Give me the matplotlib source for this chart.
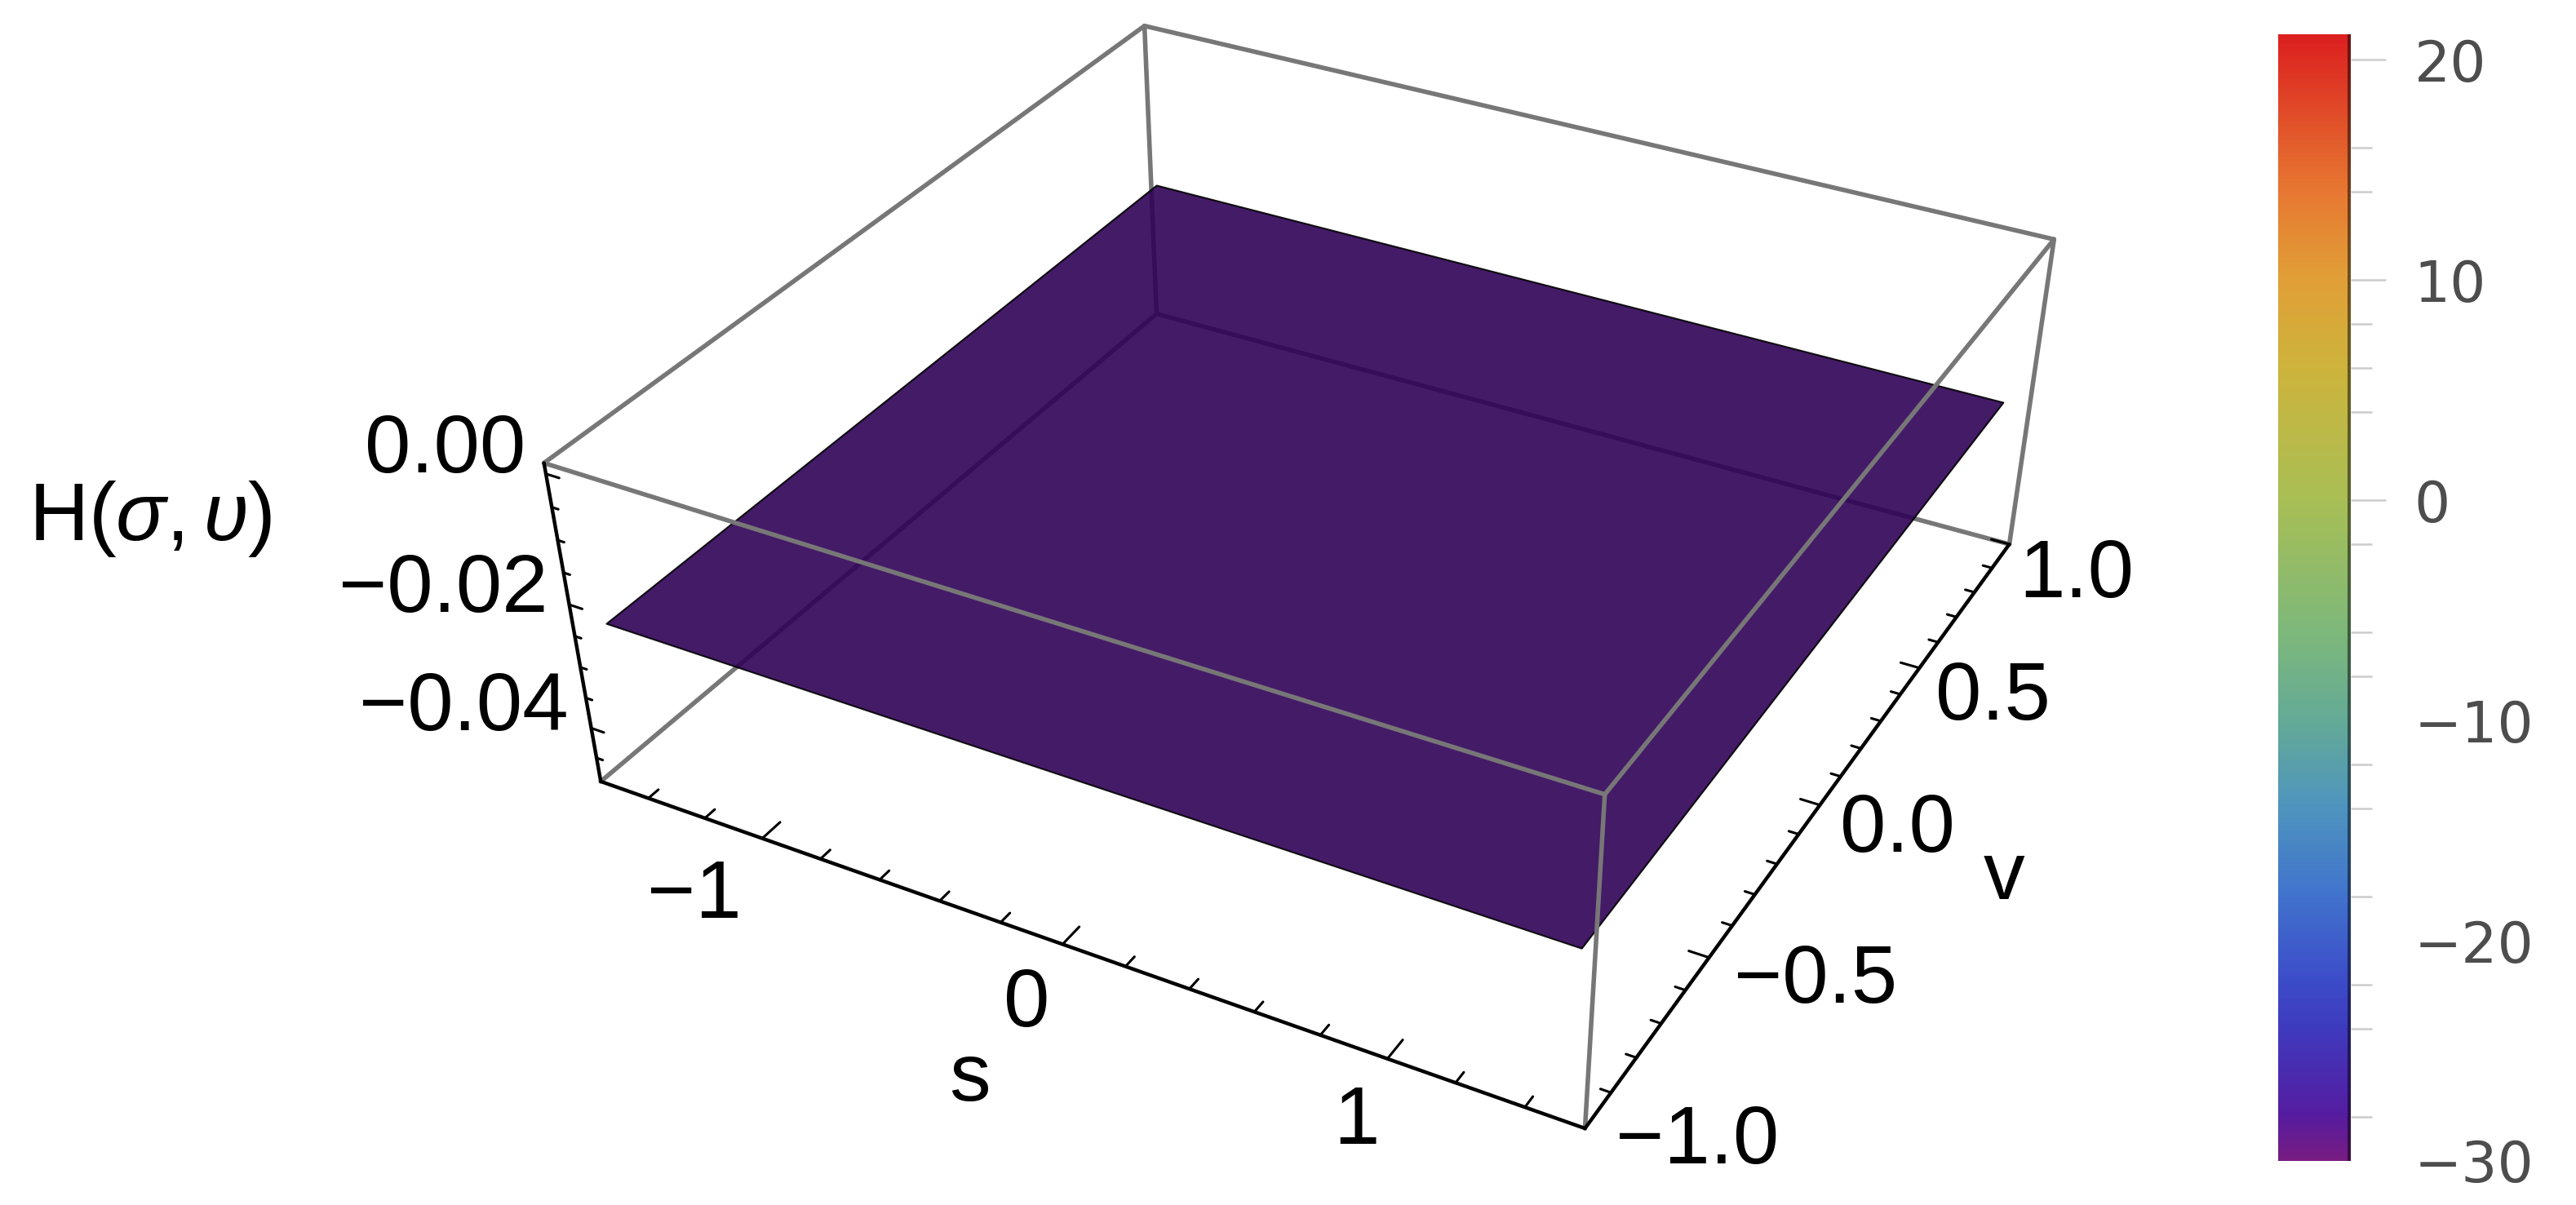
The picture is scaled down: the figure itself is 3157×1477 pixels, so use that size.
import numpy as np
import matplotlib
matplotlib.use("Agg")
import matplotlib.pyplot as plt
from matplotlib.colors import LinearSegmentedColormap, Normalize
from matplotlib.cm import ScalarMappable
from matplotlib.patches import Rectangle

W, H = 3157, 1477
plt.rcParams['font.family'] = ['Liberation Sans', 'DejaVu Sans']
plt.rcParams['mathtext.fontset'] = 'custom'
plt.rcParams['mathtext.rm'] = 'Liberation Sans'
plt.rcParams['mathtext.it'] = 'Liberation Sans:italic'

s_lim = [-1.5708, 1.5708]
v_lim = [-1.0, 1.0]
z_lim = [-0.049, 0.0016]
s_major = [-1, 0, 1]
s_minor = [-1.4, -1.2, -0.8, -0.6, -0.4, -0.2, 0.2, 0.4, 0.6, 0.8, 1.2, 1.4]
v_major = [-1.0, -0.5, 0.0, 0.5, 1.0]
v_minor = [-0.9, -0.8, -0.7, -0.6, -0.4, -0.3, -0.2, -0.1, 0.1, 0.2, 0.3, 0.4, 0.6, 0.7, 0.8, 0.9]
z_major = [0.0, -0.02, -0.04]
z_minor = [-0.005, -0.01, -0.015, -0.025, -0.03, -0.035, -0.045]
surf_s = np.array([[-1.511, 1.506], [-1.519, 1.504]])
surf_v = np.array([[-0.956, -0.960], [0.968, 0.961]])
surf_z = np.array([[-0.024, -0.024], [-0.024, -0.024]])
cb_major = [20, 10, 0, -10, -20, -30]
cb_minor = [16, 14, 8, 6, 4, -2, -6, -8, -12, -14, -18, -22, -24, -28]
cb_nodes = [-30, -28, -24, -22, -18, -14, -10, -6, 0, 6, 10, 14, 16, 21.15]
cb_colors = ['#781c82', '#551ca0', '#3e3abe', '#3c4bc8', '#4173cd', '#4e94be', '#64aa96',
             '#7db87a', '#a8be55', '#cdb43c', '#e0a037', '#e77832', '#e3602c', '#dc2020']

# perspective camera of the 3D box: data (s, v, z) to picture pixels
P = np.array([[318.520992, 500.814772, -2345.190591, 1637.408624],
              [85.975555, -250.749791, -8671.64724, 436.642431],
              [-0.037688, 0.108143, -1.41226, 1.0]])

fig = plt.figure(figsize=(W / 100, H / 100), dpi=100, facecolor='white')
ax = fig.add_axes([0, 0, 1, 1], projection='3d', computed_zorder=False)
ax.set_axis_off()
ax.apply_aspect = lambda position=None: None


def get_proj():
    vl = ax.viewLim
    A = np.array([[vl.width / W, 0, 0, vl.x0],
                  [0, -vl.height / H, 0, vl.y1],
                  [0, 0, 1, 0],
                  [0, 0, 0, 1]])
    # rows: x*w, y*w, depth (kept negative, in front of the camera), w
    return A @ np.vstack([P[0], P[1], [0, 0, 0, -1], P[2]])


ax.get_proj = get_proj

GRAY = '#777777'
LW_BOX, LW_AXIS, LW_TICK = 4.0, 3.2, 2.2


def edge(a, b, color=GRAY, lw=LW_BOX, zo=1):
    ax.plot([a[0], b[0]], [a[1], b[1]], [a[2], b[2]], color=color, lw=lw, zorder=zo,
            solid_capstyle='round', clip_on=False)


s0, s1 = s_lim
v0, v1 = v_lim
z0, z1 = z_lim
# back edges, under the translucent surface
edge((s0, v1, z1), (s0, v1, z0))
edge((s0, v1, z0), (s1, v1, z0))
edge((s0, v1, z0), (s0, v0, z0))
edge((s0, v0, z1), (s0, v1, z1))
edge((s0, v1, z1), (s1, v1, z1))

ax.plot_surface(surf_s, surf_v, surf_z, rstride=1, cstride=1, color='#2f0256', alpha=0.9,
                shade=False, edgecolor='black', linewidth=1.5, zorder=2, antialiased=False)

# front edges
edge((s0, v0, z1), (s1, v0, z1), zo=3)
edge((s1, v0, z1), (s1, v1, z1), zo=3)
edge((s1, v0, z1), (s1, v0, z0), zo=3)
edge((s1, v1, z1), (s1, v1, z0), zo=3)
# black axes
edge((s0, v0, z1), (s0, v0, z0), 'black', LW_AXIS, 4)
edge((s0, v0, z0), (s1, v0, z0), 'black', LW_AXIS, 4)
edge((s1, v0, z0), (s1, v1, z0), 'black', LW_AXIS, 4)

for t in z_major + z_minor:
    L = 0.045 if t in z_major else 0.022
    edge((s0, v0, t), (s0 + L, v0, t), 'black', LW_TICK, 4)
for t in v_major + v_minor:
    L = 0.06 if t in v_major else 0.03
    edge((s1, t, z0), (s1 - L, t, z0), 'black', LW_TICK, 4)
for t in s_major + s_minor:
    L = 0.055 if t in s_major else 0.03
    edge((t, v0, z0), (t, v0 + L, z0), 'black', LW_TICK, 4)


def place(txt, x, y, ha='center', fs=73):
    fig.text(x / W, 1 - y / H, txt, ha=ha, va='baseline', fontsize=fs, color='black')


DIG = 33
z_labels = ['0.00', '\u22120.02', '\u22120.04']
z_xy = [(644, 546), (672, 717), (697, 862)]
for t, (x, y) in zip(z_labels, z_xy):
    place(t, x, y + DIG, 'right')
v_labels = ['\u22121.0', '\u22120.5', '0.0', '0.5', '1.0']
v_xy = [(2180, 1393), (2325, 1196), (2396, 1011), (2513, 849), (2615, 699)]
for t, (x, y) in zip(v_labels, v_xy):
    place(t, x, y + DIG, 'right')
s_labels = ['\u22121', '0', '1']
s_xy = [(851, 1092), (1258, 1225), (1663, 1369)]
for t, (x, y) in zip(s_labels, s_xy):
    place(t, x, y + DIG)
place('s', 1188, 1349)
place('v', 2456, 1102)
place(r'$\mathrm{H}(\sigma,\upsilon)$', 184, 662)

# colour bar
cmap_nodes = [(v - cb_nodes[0]) / (cb_nodes[-1] - cb_nodes[0]) for v in cb_nodes]
cmap = LinearSegmentedColormap.from_list('rb', list(zip(cmap_nodes, cb_colors)), N=256)
cax = fig.add_axes([2792 / W, 1 - 1423 / H, (2881 - 2792) / W, (1423 - 42) / H])
cb = fig.colorbar(ScalarMappable(Normalize(cb_nodes[0], cb_nodes[-1]), cmap), cax=cax)
cb.outline.set_visible(False)
cb.set_ticks(cb_major)
cb.set_ticks(cb_minor, minor=True)
cb.set_ticklabels(['20', '10', '0', '\u221210', '\u221220', '\u221230'])
cax.tick_params(which='major', length=31, width=1.8, color='#cccccc', labelsize=50, pad=25,
                labelcolor='#4d4d4d')
cax.tick_params(which='minor', length=19, width=1.8, color='#cccccc')
for lab in cax.get_yticklabels():
    lab.set_fontfamily('DejaVu Sans')
for tick, val in zip(cax.yaxis.get_major_ticks(), cb_major):
    if val < 0:
        tick.tick1line.set_visible(False)
        tick.tick2line.set_visible(False)
cax.add_patch(Rectangle((1 - 4 / 89, 0), 4 / 89, 1, transform=cax.transAxes, color='black',
                        alpha=0.5, lw=0, zorder=5))

fig.savefig('out.png', dpi=100)
